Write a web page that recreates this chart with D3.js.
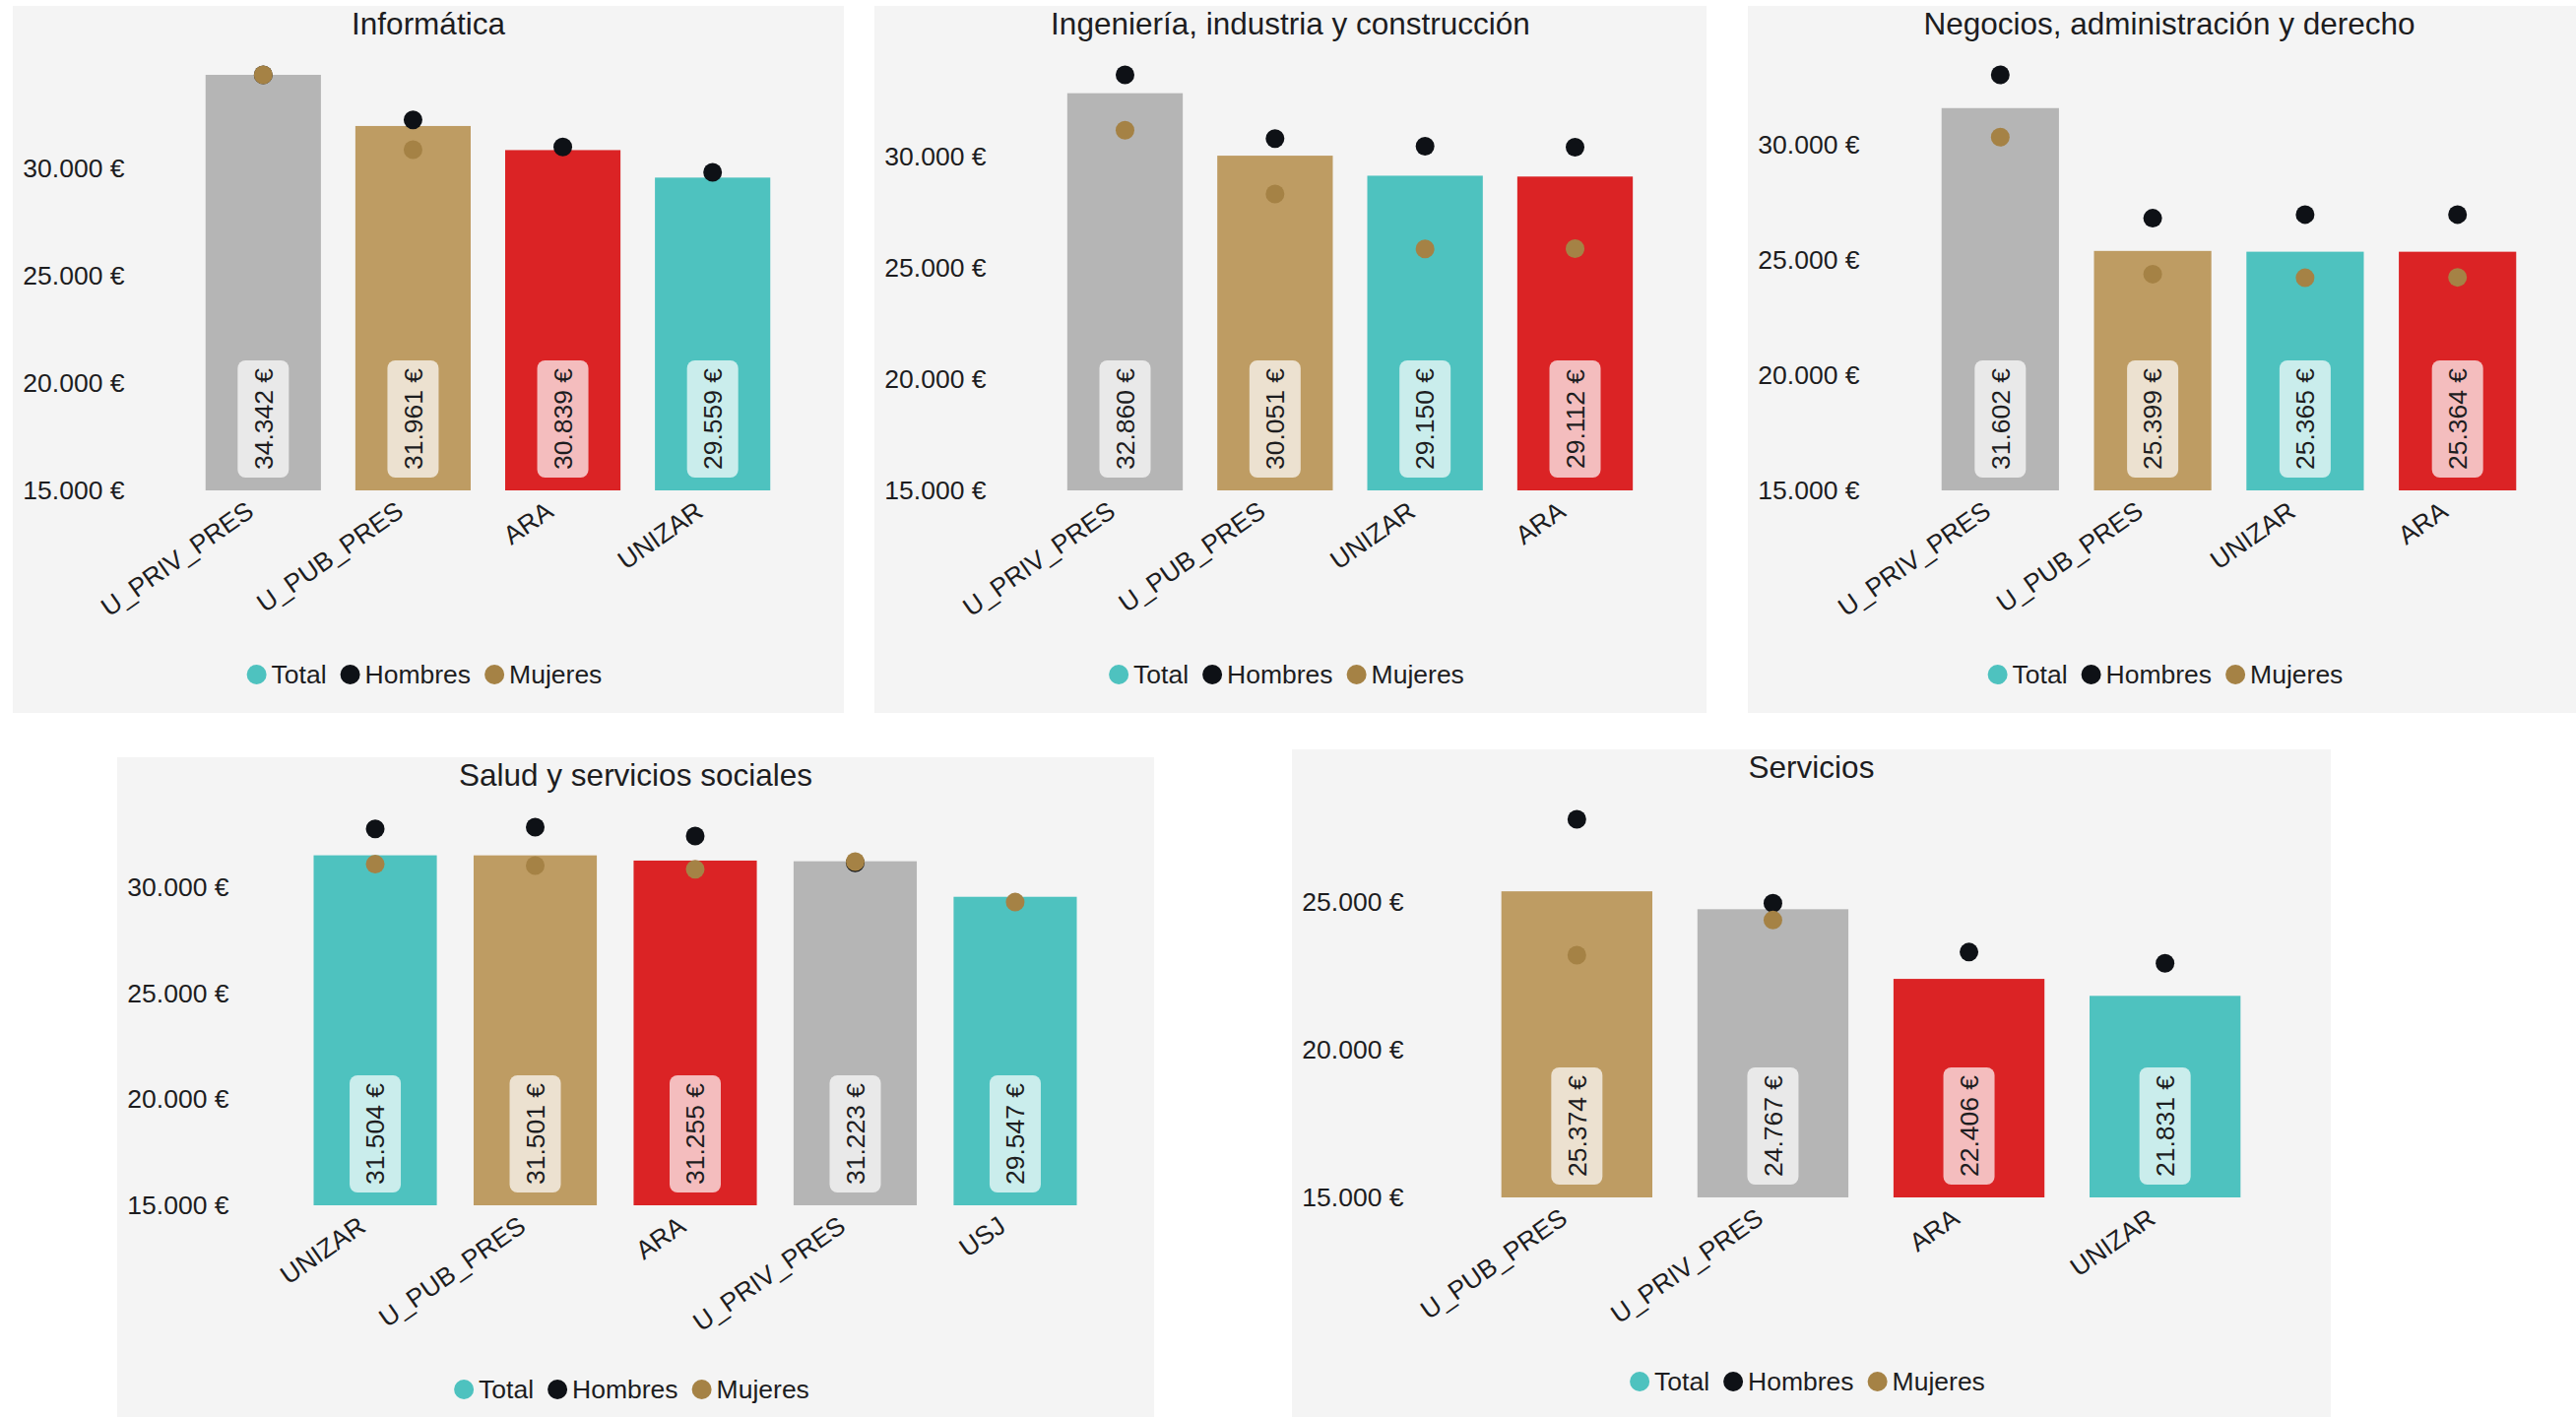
<!DOCTYPE html>
<html>
<head>
<meta charset="utf-8">
<script src="https://cdn.jsdelivr.net/npm/d3@7"></script>
<style>
  html, body { margin: 0; padding: 0; background: #ffffff; overflow: hidden; }
  text { font-family: "Liberation Sans", Arial, Helvetica, sans-serif; fill: #1d1d1f; }
</style>
</head>
<body>
<svg id="chart" width="2616" height="1439"></svg>
<script>
// ---------------- DATA ----------------
const panelTitles = [
  "Informática",
  "Ingeniería, industria y construcción",
  "Negocios, administración y derecho",
  "Salud y servicios sociales",
  "Servicios"
];

const informaticaCats     = ["U_PRIV_PRES", "U_PUB_PRES", "ARA", "UNIZAR"];
const informaticaTotal    = [34342, 31961, 30839, 29559];
const informaticaHombres  = [34342, 32244, 30983, 29808];
const informaticaMujeres  = [34342, 30855, null, null];

const ingenieriaCats      = ["U_PRIV_PRES", "U_PUB_PRES", "UNIZAR", "ARA"];
const ingenieriaTotal     = [32860, 30051, 29150, 29112];
const ingenieriaHombres   = [33686, 30822, 30472, 30431];
const ingenieriaMujeres   = [31193, 28329, 25857, 25870];

const negociosCats        = ["U_PRIV_PRES", "U_PUB_PRES", "UNIZAR", "ARA"];
const negociosTotal       = [31602, 25399, 25365, 25364];
const negociosHombres     = [33046, 26819, 26978, 26978];
const negociosMujeres     = [30340, 24391, 24232, 24252];

const saludCats           = ["UNIZAR", "U_PUB_PRES", "ARA", "U_PRIV_PRES", "USJ"];
const saludTotal          = [31504, 31501, 31255, 31223, 29547];
const saludHombres        = [32751, 32831, 32410, 31150, null];
const saludMujeres        = [31084, 31024, 30843, 31205, 29297];

const serviciosCats       = ["U_PUB_PRES", "U_PRIV_PRES", "ARA", "UNIZAR"];
const serviciosTotal      = [25374, 24767, 22406, 21831];
const serviciosHombres    = [27815, 24971, 23314, 22933];
const serviciosMujeres    = [23211, 24399, null, null];

const yTickValues = [15000, 20000, 25000, 30000];
const yMin = 15000;
const legendLabels = ["Total", "Hombres", "Mujeres"];

// ---------------- STYLE / LAYOUT ----------------
const barColors = {
  "U_PRIV_PRES": "#b5b5b5",
  "U_PUB_PRES":  "#be9c63",
  "ARA":         "#db2325",
  "UNIZAR":      "#4ec2bf",
  "USJ":         "#4ec2bf"
};
const colorHombres = "#0e1116";
const colorMujeres = "#a58245";
const colorTotal   = "#4ec2bf";
const panelBg      = "#f4f4f4";

const layout = [
  { x: 13,   y: 6,   w: 844,  h: 718, top: 70, bottom: 492 },
  { x: 888,  y: 6,   w: 845,  h: 718, top: 70, bottom: 492 },
  { x: 1775, y: 6,   w: 856,  h: 718, top: 70, bottom: 492 },
  { x: 119,  y: 769, w: 1053, h: 700, top: 71, bottom: 455 },
  { x: 1312, y: 761, w: 1055, h: 700, top: 71, bottom: 455 }
];

const panels = [
  { cats: informaticaCats, total: informaticaTotal, hombres: informaticaHombres, mujeres: informaticaMujeres },
  { cats: ingenieriaCats,  total: ingenieriaTotal,  hombres: ingenieriaHombres,  mujeres: ingenieriaMujeres },
  { cats: negociosCats,    total: negociosTotal,    hombres: negociosHombres,    mujeres: negociosMujeres },
  { cats: saludCats,       total: saludTotal,       hombres: saludHombres,       mujeres: saludMujeres },
  { cats: serviciosCats,   total: serviciosTotal,   hombres: serviciosHombres,   mujeres: serviciosMujeres }
];

const locale = d3.formatLocale({ decimal: ",", thousands: ".", grouping: [3], currency: ["", " €"] });
const fmtNum = locale.format(",.0f");
const fmtEuro = v => fmtNum(v) + " €";

const svg = d3.select("#chart");

panels.forEach((p, i) => {
  const L = layout[i];
  const g = svg.append("g").attr("transform", `translate(${L.x},${L.y})`);

  g.append("rect").attr("width", L.w).attr("height", L.h).attr("fill", panelBg);

  // title
  g.append("text")
    .attr("x", L.w / 2).attr("y", 29)
    .attr("text-anchor", "middle")
    .style("font-size", "31.5px")
    .text(panelTitles[i]);

  const rows = p.cats.map((c, k) => ({ cat: c, total: p.total[k], hombres: p.hombres[k], mujeres: p.mujeres[k] }));
  const yMax = d3.max(rows, r => d3.max([r.total, r.hombres, r.mujeres].filter(v => v != null)));

  const x = d3.scaleBand().domain(p.cats).range([141, L.w - 20]).paddingInner(0.23).paddingOuter(0.36);
  const y = d3.scaleLinear().domain([yMin, yMax]).range([L.bottom, L.top]);

  // y axis
  const yAxis = d3.axisLeft(y)
    .tickValues(yTickValues.filter(v => v <= yMax))
    .tickSize(0).tickPadding(0)
    .tickFormat(fmtEuro);
  const ya = g.append("g").attr("transform", "translate(113.5,0)").call(yAxis);
  ya.select(".domain").remove();
  ya.attr("font-family", null).attr("font-size", null);
  ya.selectAll("text").style("font-size", "26.5px").attr("fill", "#1d1d1f");

  // bars
  g.append("g").selectAll("rect").data(rows).join("rect")
    .attr("x", d => x(d.cat))
    .attr("y", d => y(d.total))
    .attr("width", x.bandwidth())
    .attr("height", d => y(yMin) - y(d.total))
    .attr("fill", d => barColors[d.cat]);

  // value labels
  const boxW = 52, boxH = 119, boxGap = 13;
  const lab = g.append("g").selectAll("g").data(rows).join("g")
    .attr("transform", d => `translate(${x(d.cat) + x.bandwidth() / 2},${y(yMin) - boxGap - boxH / 2})`);
  lab.append("rect")
    .attr("x", -boxW / 2).attr("y", -boxH / 2)
    .attr("width", boxW).attr("height", boxH)
    .attr("rx", 8).attr("ry", 8)
    .attr("fill", "#ffffff").attr("fill-opacity", 0.7);
  lab.append("text")
    .attr("transform", "rotate(-90)")
    .attr("text-anchor", "middle")
    .attr("dy", "0.35em")
    .style("font-size", "26.5px")
    .text(d => fmtEuro(d.total));

  // dots: Hombres then Mujeres on top
  g.append("g").selectAll("circle").data(rows.filter(d => d.hombres != null)).join("circle")
    .attr("cx", d => x(d.cat) + x.bandwidth() / 2)
    .attr("cy", d => y(d.hombres))
    .attr("r", 9.5)
    .attr("fill", colorHombres);
  g.append("g").selectAll("circle").data(rows.filter(d => d.mujeres != null)).join("circle")
    .attr("cx", d => x(d.cat) + x.bandwidth() / 2)
    .attr("cy", d => y(d.mujeres))
    .attr("r", 9.5)
    .attr("fill", colorMujeres);

  // x axis
  const xAxis = d3.axisBottom(x).tickSize(0).tickPadding(0);
  const xa = g.append("g").attr("transform", `translate(0,${L.bottom})`).call(xAxis);
  xa.select(".domain").remove();
  xa.attr("font-family", null).attr("font-size", null);
  xa.selectAll("text")
    .attr("x", null).attr("y", null).attr("dy", null)
    .attr("transform", "translate(-8,25) rotate(-35)")
    .attr("text-anchor", "end")
    .attr("fill", "#1d1d1f")
    .style("font-size", "26.3px");

  // legend
  const legColors = [colorTotal, colorHombres, colorMujeres];
  const lg = g.append("g");
  let cx = 0;
  const ly = L.bottom + 187;
  legendLabels.forEach((lbl, k) => {
    lg.append("circle").attr("cx", cx).attr("cy", ly).attr("r", 10).attr("fill", legColors[k]);
    const t = lg.append("text").attr("x", cx + 15).attr("y", ly + 8.5)
      .style("font-size", "26.5px").text(lbl);
    const tw = t.node().getComputedTextLength();
    cx = cx + 15 + tw + 24;
  });
  const bb = lg.node().getBBox();
  lg.attr("transform", `translate(${L.w / 2 - 4 - (bb.x + bb.width / 2)},0)`);
});
</script>
</body>
</html>
